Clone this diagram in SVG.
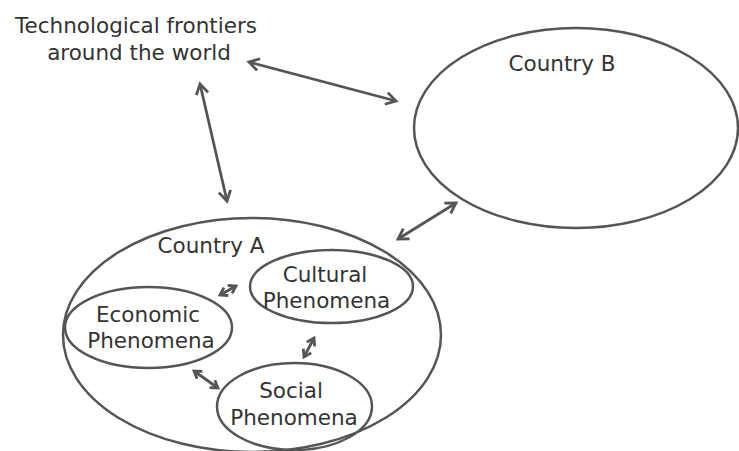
<svg xmlns="http://www.w3.org/2000/svg" width="739" height="451" viewBox="0 0 739 451">
<style>
.n{fill:none;stroke:#555;stroke-width:2.5}
.t{font-family:"DejaVu Sans",Verdana,sans-serif;font-size:21.5px;fill:#333;text-anchor:middle}
.c{fill:none;stroke:#555;stroke-width:2.8}
.cl{marker-start:url(#ah);marker-end:url(#ah)}
.cs{marker-start:url(#as);marker-end:url(#as)}
</style>
<defs>
<marker id="ah" markerUnits="userSpaceOnUse" orient="auto-start-reverse" refX="0" refY="0" markerWidth="20" markerHeight="20" viewBox="-12 -10 14 20" overflow="visible">
<path d="M-10,-6 L0,0 L-10,6" fill="none" stroke="#555" stroke-width="2.8" stroke-linejoin="miter"/>
</marker>
<marker id="as" markerUnits="userSpaceOnUse" orient="auto-start-reverse" refX="0" refY="0" markerWidth="20" markerHeight="20" viewBox="-12 -10 14 20" overflow="visible">
<path d="M-7,-4.5 L0,0 L-7,4.5" fill="none" stroke="#555" stroke-width="2.8" stroke-linejoin="miter"/>
</marker>
</defs>
<rect width="739" height="451" fill="#fff"/>
<g id="tech">
<text class="t" x="136" y="33">Technological frontiers</text>
<text class="t" x="139" y="60">around the world</text>
</g>
<g id="countryB">
<ellipse class="n" cx="576" cy="128" rx="162" ry="100"/>
<text class="t" x="562" y="71">Country B</text>
</g>
<g id="countryA">
<ellipse class="n" cx="252" cy="335" rx="189" ry="117"/>
<text class="t" x="211" y="253">Country A</text>
</g>
<g id="cultural">
<ellipse class="n" cx="331.5" cy="286.5" rx="81.5" ry="36.5"/>
<text class="t" x="325" y="282">Cultural</text>
<text class="t" x="326.5" y="308">Phenomena</text>
</g>
<g id="economic">
<ellipse class="n" cx="148.5" cy="327.5" rx="83.5" ry="40.5"/>
<text class="t" x="148" y="322">Economic</text>
<text class="t" x="151" y="348">Phenomena</text>
</g>
<g id="social">
<ellipse class="n" cx="294.5" cy="406.5" rx="77.5" ry="43.5"/>
<text class="t" x="291" y="398">Social</text>
<text class="t" x="294" y="425">Phenomena</text>
</g>
<g id="connectors">
<line class="c cl" x1="249" y1="62" x2="396" y2="101"/>
<line class="c cl" x1="200" y1="84" x2="227" y2="201"/>
<line class="c cl" x1="398" y1="239" x2="456" y2="203"/>
<line class="c cs" x1="220" y1="295" x2="236" y2="286"/>
<line class="c cs" x1="304" y1="357" x2="314" y2="338"/>
<line class="c cs" x1="194" y1="371" x2="218" y2="388"/>
</g>
</svg>
